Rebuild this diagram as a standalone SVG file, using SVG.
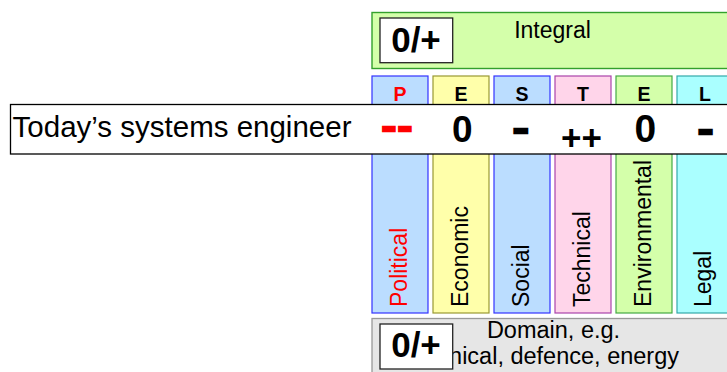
<svg xmlns="http://www.w3.org/2000/svg" width="727" height="372" viewBox="0 0 727 372">
  <style>
    .lbl { font-family: "Liberation Sans", Arial, sans-serif; fill: #000; }
    .big { font-family: "Liberation Sans", Arial, sans-serif; font-weight: bold; fill: #000; }
    .score { font-family: "Liberation Sans", Arial, sans-serif; font-weight: bold; fill: #000; }
    .dash { font-family: "Liberation Sans", Arial, sans-serif; font-weight: bold; font-size: 35px; fill: #000; stroke: #000; stroke-width: 2.3; stroke-linejoin: miter; }
    .head { font-family: "Liberation Sans", Arial, sans-serif; font-weight: bold; font-size: 19.5px; text-anchor: middle; fill: #000; }
    .vert { font-family: "Liberation Sans", Arial, sans-serif; font-size: 23px; fill: #000; }
    .col { stroke-width: 1.2; }
    .badge { fill: #fff; stroke: #222; stroke-width: 1.3; }
    .red { fill: #ff0000; }
    .dash.red { stroke: #ff0000; }
  </style>

  <!-- Integral layer on top -->
  <g id="integral">
    <rect x="372" y="12.5" width="380" height="56" fill="#d4ffaa" stroke="#33a02c" stroke-width="1.4"/>
    <rect class="badge" x="380" y="18" width="72.7" height="44.7"/>
    <text class="big" x="416" y="52" font-size="35" text-anchor="middle">0/+</text>
    <text class="lbl" x="552.5" y="37.5" font-size="23" text-anchor="middle">Integral</text>
  </g>

  <!-- PESTEL columns -->
  <g id="col-political">
    <rect class="col" x="372" y="76" width="56" height="237" fill="#bbddff" stroke="#3333ff"/>
    <text class="head red" x="400" y="101">P</text>
    <text class="vert red" transform="translate(407,307) rotate(-90)">Political</text>
  </g>
  <g id="col-economic">
    <rect class="col" x="433" y="76" width="56" height="237" fill="#ffffaa" stroke="#999933"/>
    <text class="head" x="461" y="101">E</text>
    <text class="vert" transform="translate(468,307) rotate(-90)">Economic</text>
  </g>
  <g id="col-social">
    <rect class="col" x="494" y="76" width="56" height="237" fill="#bbddff" stroke="#3333ff"/>
    <text class="head" x="522" y="101">S</text>
    <text class="vert" transform="translate(529,307) rotate(-90)">Social</text>
  </g>
  <g id="col-technical">
    <rect class="col" x="555" y="76" width="56" height="237" fill="#ffd5ea" stroke="#aa44aa"/>
    <text class="head" x="583" y="101">T</text>
    <text class="vert" transform="translate(590,307) rotate(-90)">Technical</text>
  </g>
  <g id="col-environmental">
    <rect class="col" x="616" y="76" width="56" height="237" fill="#d4ffaa" stroke="#44aa44"/>
    <text class="head" x="644" y="101">E</text>
    <text class="vert" transform="translate(651,307) rotate(-90)">Environmental</text>
  </g>
  <g id="col-legal">
    <rect class="col" x="677" y="76" width="56" height="237" fill="#aaffff" stroke="#33aaaa"/>
    <text class="head" x="705" y="101">L</text>
    <text class="vert" transform="translate(711,307) rotate(-90)">Legal</text>
  </g>

  <!-- Engineer profile band with scores -->
  <g id="engineer">
    <rect x="10.5" y="104.5" width="730" height="49.5" fill="#fff" stroke="#000" stroke-width="1.3"/>
    <text class="lbl" x="12.6" y="137" font-size="29.5">Today’s systems engineer</text>
    <text class="dash red" transform="translate(381.8,137.5) scale(1.23,1)"><tspan x="0">-</tspan><tspan x="13">-</tspan></text>
    <text class="score" x="462.2" y="142" font-size="37" text-anchor="middle">0</text>
    <text class="dash" x="513" y="139.6" textLength="15.6" lengthAdjust="spacingAndGlyphs">-</text>
    <text class="score" x="561.1" y="150.4" font-size="35">++</text>
    <text class="score" x="645.3" y="141.5" font-size="39" text-anchor="middle">0</text>
    <text class="dash" x="698.1" y="140.5" textLength="15.1" lengthAdjust="spacingAndGlyphs">-</text>
  </g>

  <!-- Domain layer at the bottom -->
  <g id="domain">
    <rect x="372" y="318.5" width="380" height="70" fill="#e6e6e6" stroke="#999" stroke-width="1.3"/>
    <text class="lbl" x="553.5" y="338.3" font-size="23.5" text-anchor="middle">Domain, e.g.</text>
    <text class="lbl" x="679" y="364" font-size="23.5" text-anchor="end">nical, defence, energy</text>
    <rect class="badge" x="380" y="324" width="72.7" height="45"/>
    <text class="big" x="416" y="357.3" font-size="35" text-anchor="middle">0/+</text>
  </g>
</svg>
